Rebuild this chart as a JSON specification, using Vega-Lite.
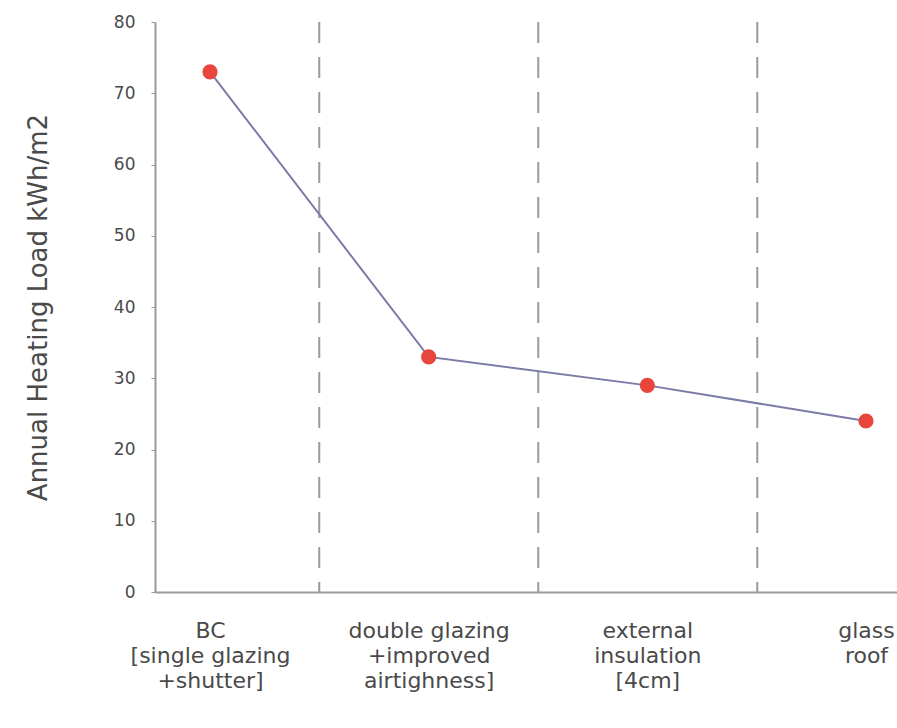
{
  "$schema": "https://vega.github.io/schema/vega-lite/v6.json",
  "autosize": "none",
  "width": 742,
  "height": 570,
  "padding": {"left": 155, "top": 22, "right": 0, "bottom": 136},
  "background": "white",
  "config": {
    "view": {"stroke": null},
    "font": "DejaVu Sans",
    "axis": {"labelFont": "DejaVu Sans", "titleFont": "DejaVu Sans", "labelColor": "#4a4a4a", "titleColor": "#4a4a4a", "domainColor": "#999", "tickColor": "#999", "grid": false}
  },
  "layer": [
    {
      "data": {"values": [{"divider": 0.5}, {"divider": 1.5}, {"divider": 2.5}]},
      "mark": {"type": "rule", "color": "#9a9a9a", "strokeWidth": 2, "strokeDash": [21, 14]},
      "encoding": {
        "x": {"field": "divider", "type": "quantitative", "scale": {"domain": [-0.25, 3.138], "nice": false, "zero": false},
          "axis": {"title": null, "orient": "bottom", "labels": false, "ticks": false, "domainWidth": 2, "grid": false}}
      }
    },
    {
      "data": {"values": [
        {"measure": "BC\n[single glazing\n+shutter]", "load": 73},
        {"measure": "double glazing\n+improved\nairtighness]", "load": 33},
        {"measure": "external\ninsulation\n[4cm]", "load": 29},
        {"measure": "glass\nroof", "load": 24}
      ]},
      "encoding": {
        "x": {"field": "measure", "type": "nominal", "sort": null,
          "scale": {"type": "point", "range": [55, 711], "padding": 0},
          "axis": {"title": null, "orient": "bottom", "domain": false, "ticks": false, "labelAngle": 0, "labelExpr": "split(datum.value, '\\n')", "labelFontSize": 22, "labelLineHeight": 25, "labelPadding": 28, "labelBaseline": "top"}},
        "y": {"field": "load", "type": "quantitative", "scale": {"domain": [0, 80], "nice": false},
          "axis": {"title": "Annual Heating Load kWh/m2", "values": [0, 10, 20, 30, 40, 50, 60, 70, 80], "titleFontSize": 26, "titleFontWeight": "normal", "titlePadding": 62, "labelFontSize": 17, "labelPadding": 16, "tickSize": 4, "domainWidth": 2}}
      },
      "layer": [
        {"mark": {"type": "line", "color": "#7b7ca6", "strokeWidth": 2}},
        {"mark": {"type": "point", "filled": true, "color": "#e8453c", "size": 230, "opacity": 1}}
      ]
    }
  ],
  "resolve": {"scale": {"x": "independent"}, "axis": {"x": "independent"}}
}
